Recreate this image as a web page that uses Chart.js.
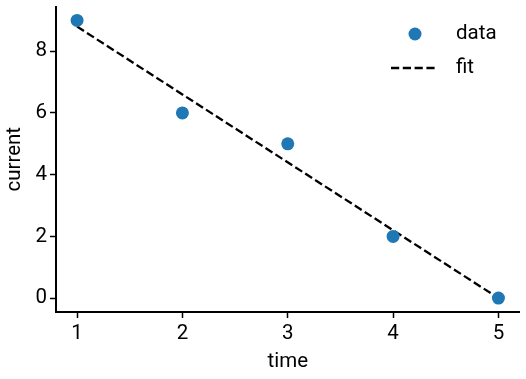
<!DOCTYPE html>
<html>
<head>
<meta charset="utf-8">
<script src="https://cdn.jsdelivr.net/npm/chart.js@4/dist/chart.umd.min.js"></script>
<style>
html,body{margin:0;padding:0;background:#fff;}
canvas{display:block;}
</style>
</head>
<body>
<canvas id="c" width="526" height="379"></canvas>
<script>
const TIME = [1, 2, 3, 4, 5];
const CURRENT = [9, 6, 5, 2, 0];
const FIT_TIME = [1, 5];
const FIT_CURRENT = [8.8, 0];
const X_TICKS = [1, 2, 3, 4, 5];
const Y_TICKS = [0, 2, 4, 6, 8];
const SERIES_NAMES = ['data', 'fit'];

const FONT = 'Roboto, "DejaVu Sans", sans-serif';
const FS = 20.5;

const legendPlugin = {
  id: 'mplLegend',
  afterDatasetsDraw(chart) {
    const ctx = chart.ctx;
    const ds = chart.data.datasets;
    ctx.save();
    ctx.font = FS + 'px ' + FONT;
    ctx.textBaseline = 'middle';
    // data entry
    ctx.beginPath();
    ctx.arc(415, 34, 6.5, 0, Math.PI * 2);
    ctx.fillStyle = ds[0].backgroundColor;
    ctx.fill();
    ctx.fillStyle = '#000';
    ctx.fillText(ds[0].label, 456, 34);
    // fit entry
    ctx.beginPath();
    ctx.setLineDash(ds[1].borderDash);
    ctx.lineWidth = ds[1].borderWidth;
    ctx.strokeStyle = ds[1].borderColor;
    ctx.moveTo(391, 68);
    ctx.lineTo(438, 68);
    ctx.stroke();
    ctx.setLineDash([]);
    ctx.fillText(ds[1].label, 456, 68);
    ctx.restore();
  }
};

new Chart(document.getElementById('c'), {
  type: 'scatter',
  data: {
    datasets: [
      {
        type: 'scatter',
        label: SERIES_NAMES[0],
        data: TIME.map((t, i) => ({x: t, y: CURRENT[i]})),
        backgroundColor: '#1f77b4',
        borderColor: '#1f77b4',
        pointRadius: 6.5,
        borderWidth: 0,
        order: 1
      },
      {
        type: 'line',
        label: SERIES_NAMES[1],
        data: FIT_TIME.map((t, i) => ({x: t, y: FIT_CURRENT[i]})),
        borderColor: '#000',
        borderWidth: 2.3,
        borderDash: [8.2, 3.6],
        pointRadius: 0,
        fill: false,
        tension: 0,
        order: 2
      }
    ]
  },
  options: {
    responsive: false,
    animation: false,
    events: [],
    layout: {padding: {left: 0, right: 5, top: 5, bottom: 0}},
    plugins: {legend: {display: false}, tooltip: {enabled: false}},
    scales: {
      x: {
        type: 'linear',
        min: 0.8,
        max: 5.2,
        afterBuildTicks: s => { s.ticks = X_TICKS.map(v => ({value: v})); },
        afterFit: s => { s.height = 67; s.paddingLeft = 0; s.paddingRight = 0; },
        grid: {drawOnChartArea: false, drawTicks: true, tickLength: 6, tickWidth: 1.5, tickColor: '#000'},
        border: {display: true, width: 2, color: '#000'},
        ticks: {color: '#000', font: {family: FONT, size: FS}, padding: 4, maxRotation: 0},
        title: {display: true, text: 'time', color: '#000', font: {family: FONT, size: FS}, padding: {top: 0, bottom: 5}}
      },
      y: {
        type: 'linear',
        min: -0.45,
        max: 9.45,
        afterBuildTicks: s => { s.ticks = Y_TICKS.map(v => ({value: v})); },
        afterFit: s => { s.width = 56; s.paddingTop = 0; s.paddingBottom = 0; },
        grid: {drawOnChartArea: false, drawTicks: true, tickLength: 6, tickWidth: 1.5, tickColor: '#000'},
        border: {display: true, width: 2, color: '#000'},
        ticks: {color: '#000', font: {family: FONT, size: FS}, padding: 3},
        title: {display: true, text: 'current', color: '#000', font: {family: FONT, size: FS}, padding: {top: 3, bottom: 0}}
      }
    }
  },
  plugins: [legendPlugin]
});
</script>
</body>
</html>
